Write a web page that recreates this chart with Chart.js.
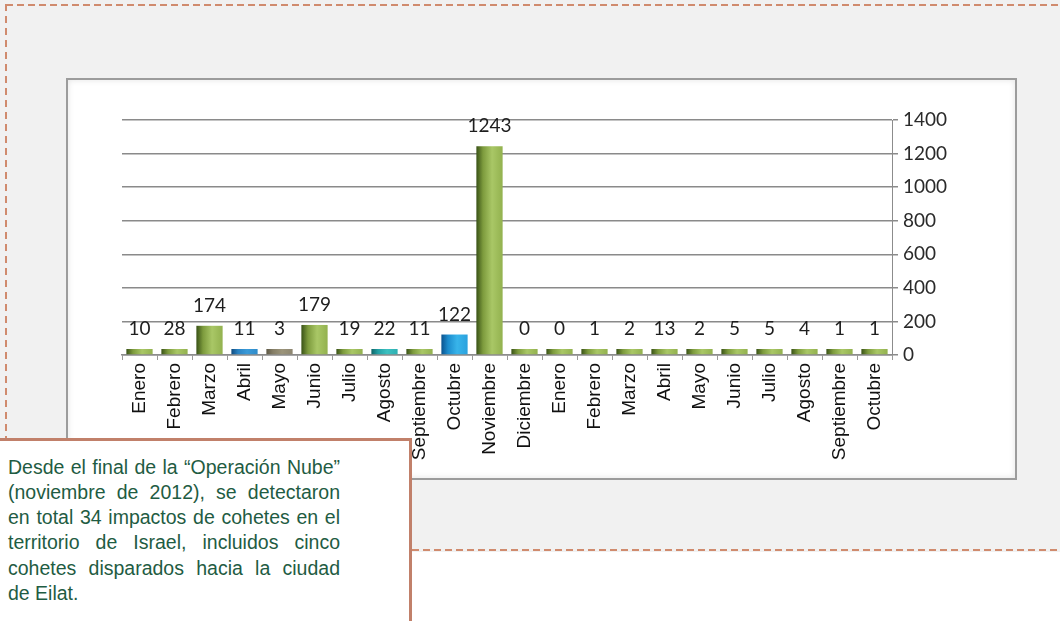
<!DOCTYPE html>
<html>
<head>
<meta charset="utf-8">
<script src="https://cdn.jsdelivr.net/npm/chart.js"></script>
<style>
    body { margin: 0; background: #fff; width: 1060px; height: 621px; overflow: hidden; position: relative; }
    #fondo { position: absolute; left: 0; top: 0; width: 1060px; height: 552px; background: #f1f1f1; }
    .raya-h { position: absolute; height: 2px; background: repeating-linear-gradient(to right, #d08b6e 0 7px, transparent 7px 11px); }
    .raya-v { position: absolute; width: 2px; background: repeating-linear-gradient(to bottom, #d08b6e 0 7px, transparent 7px 12px); }
    #panel { position: absolute; left: 66px; top: 78px; width: 951px; height: 402px; box-sizing: border-box;
             background: #fff; border: 2px solid #9c9c9c; box-shadow: inset 0 0 6px #e4e4e4; }
    #grafico { position: absolute; left: 0; top: 0; }
    #nota { position: absolute; left: -3px; top: 438px; width: 415px; height: 200px; box-sizing: border-box;
            background: #fff; border: 3px solid #c1806a; padding: 13.5px 0 0 8px; }
    #nota .txt { width: 332px; font-family: "Liberation Sans", Arial, sans-serif; font-size: 19.5px; line-height: 25.3px; color: #1f5c43; }
    #nota .l { text-align: justify; text-align-last: justify; white-space: nowrap; }
    #nota .ult { text-align-last: left; }
</style>
</head>
<body>
<div id="fondo"></div>
<div class="raya-h" style="left:6px; top:4px; width:1054px;"></div>
<div class="raya-v" style="left:5px; top:4px; height:440px;"></div>
<div class="raya-h" style="left:412px; top:549px; width:648px;"></div>
<div id="panel"></div>
<canvas id="grafico" width="1060" height="621"></canvas>
<div id="nota">
    <div class="txt">
        <div class="l">Desde el final de la “Operación Nube”</div>
        <div class="l">(noviembre de 2012), se detectaron</div>
        <div class="l">en total 34 impactos de cohetes en el</div>
        <div class="l">territorio de Israel, incluidos cinco</div>
        <div class="l">cohetes disparados hacia la ciudad</div>
        <div class="l ult">de Eilat.</div>
    </div>
</div>
<script>
// los datos
let meses = ['Enero', 'Febrero', 'Marzo', 'Abril', 'Mayo', 'Junio', 'Julio', 'Agosto', 'Septiembre', 'Octubre', 'Noviembre', 'Diciembre',
             'Enero', 'Febrero', 'Marzo', 'Abril', 'Mayo', 'Junio', 'Julio', 'Agosto', 'Septiembre', 'Octubre'];
let impactos = [10, 28, 174, 11, 3, 179, 19, 22, 11, 122, 1243, 0,
                0, 1, 2, 13, 2, 5, 5, 4, 1, 1];
let ticksY = [0, 200, 400, 600, 800, 1000, 1200, 1400];

// colores de cada barra
let tonos = ['verde', 'verde', 'verde', 'azul', 'gris', 'verde', 'verde', 'turquesa', 'verde', 'celeste', 'verde', 'verde',
             'verde', 'verde', 'verde', 'verde', 'verde', 'verde', 'verde', 'verde', 'verde', 'verde'];
let degradados = {
    verde: ['#3a5317', '#7d9b3d', '#a9c766', '#93b24f'],
    azul: ['#0f4c80', '#2a82c2', '#3a9ad8', '#2f8cca'],
    gris: ['#5f5a47', '#857e66', '#9b947a', '#8d8670'],
    turquesa: ['#0e6668', '#23a0a4', '#3cc0c0', '#2eb0b2'],
    celeste: ['#0b548f', '#1c8ccd', '#38b4ea', '#2aa2de']
};

function colorBarra(c) {
    let escala = c.chart.scales.x;
    let tono = degradados[tonos[c.dataIndex]];
    if (!escala || escala.width == null) {
        return tono[2];
    }
    let cx = escala.getPixelForValue(c.dataIndex);
    let g = c.chart.ctx.createLinearGradient(cx - 13, 0, cx + 13, 0);
    g.addColorStop(0, tono[0]);
    g.addColorStop(0.25, tono[1]);
    g.addColorStop(0.6, tono[2]);
    g.addColorStop(1, tono[3]);
    return g;
}

// etiquetas encima de las barras
let etiquetas = {
    id: 'etiquetas',
    afterDatasetsDraw(chart) {
        let ctx = chart.ctx;
        let barras = chart.getDatasetMeta(0).data;
        ctx.save();
        ctx.font = '19px Lato';
        ctx.fillStyle = '#1e1e1e';
        ctx.textAlign = 'center';
        ctx.textBaseline = 'alphabetic';
        barras.forEach((b, i) => {
            ctx.fillText(String(impactos[i]), b.x, b.y - 14);
        });
        ctx.restore();
    }
};

let grafico = new Chart(document.getElementById('grafico'), {
    type: 'bar',
    data: {
        labels: meses,
        datasets: [{
            data: impactos,
            backgroundColor: colorBarra,
            borderWidth: 0,
            barPercentage: 0.75,
            categoryPercentage: 1,
            minBarLength: 6
        }]
    },
    options: {
        responsive: false,
        animation: false,
        layout: { padding: { left: 122, top: 120, right: 0, bottom: 0 } },
        plugins: {
            legend: { display: false },
            tooltip: { enabled: false }
        },
        scales: {
            x: {
                afterFit: (s) => { s.height = 266; },
                grid: { drawOnChartArea: false, drawTicks: true, tickLength: 5, color: '#9a9a9a' },
                border: { display: true, color: '#8c8c8c', width: 1.5 },
                ticks: {
                    autoSkip: false,
                    minRotation: 90,
                    maxRotation: 90,
                    padding: 3,
                    color: '#111',
                    font: { family: 'Liberation Sans', size: 19 }
                }
            },
            y: {
                position: 'right',
                min: 0,
                max: 1400,
                afterFit: (s) => { s.width = 168; },
                afterBuildTicks: (s) => { s.ticks = ticksY.map(v => ({ value: v })); },
                grid: { color: '#8a8a8a', lineWidth: 1.5, tickLength: 6 },
                border: { display: true, color: '#8c8c8c', width: 1 },
                ticks: {
                    padding: 5,
                    color: '#2a2a2a',
                    font: { family: 'Lato', size: 19 },
                    callback: (v) => String(v)
                }
            }
        }
    },
    plugins: [etiquetas]
});
</script>
</body>
</html>
